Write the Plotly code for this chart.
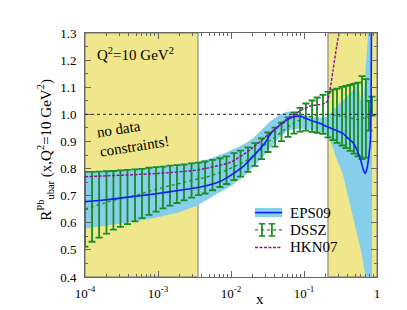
import plotly.graph_objects as go

# ---------------- data ----------------
band_x = [1e-4, 2e-4, 5e-4, 1e-3, 2e-3, 3.5e-3, 5e-3, 7.8e-3, 1e-2, 1.5e-2, 2e-2, 2.7e-2,
          3.4e-2, 4.7e-2, 6e-2, 8.8e-2, 0.12, 0.17, 0.21, 0.24, 0.28, 0.34, 0.40, 0.47,
          0.55, 0.60, 0.65, 0.69, 0.73, 0.78, 0.855]
band_lo = [0.579, 0.59, 0.605, 0.62, 0.64, 0.665, 0.69, 0.72, 0.735, 0.772, 0.805, 0.84,
           0.875, 0.917, 0.94, 0.948, 0.944, 0.935, 0.925, 0.89, 0.835, 0.78, 0.70, 0.62,
           0.545, 0.50, 0.45, 0.41, 0.35, 0.30, 0.25]
band_hi = [0.788, 0.792, 0.80, 0.807, 0.815, 0.825, 0.835, 0.855, 0.868, 0.89, 0.912, 0.948,
           0.973, 1.0, 1.01, 1.004, 0.991, 0.988, 0.99, 1.01, 1.03, 1.05, 1.07, 1.09,
           1.115, 1.05, 1.05, 1.15, 1.26, 1.45, 1.5]

eps_x = [1e-4, 2e-4, 5e-4, 1e-3, 2e-3, 3.5e-3, 5e-3, 7e-3, 1e-2, 1.5e-2, 2e-2, 3e-2, 3.4e-2,
         4e-2, 5.5e-2, 7e-2, 0.09, 0.12, 0.17, 0.21, 0.28, 0.34, 0.40, 0.47, 0.53, 0.60,
         0.65, 0.69, 0.73, 0.776, 0.814, 0.841]
eps_c = [0.678, 0.685, 0.698, 0.708, 0.72, 0.73, 0.739, 0.752, 0.776, 0.81, 0.845, 0.899, 0.924,
         0.945, 0.975, 0.99, 0.993, 0.979, 0.965, 0.954, 0.94, 0.93, 0.912, 0.895, 0.87, 0.83,
         0.795, 0.782, 0.80, 0.85, 0.91, 1.4]

hkn_x = [1e-4, 1e-3, 3.5e-3, 1e-2, 1.8e-2, 3.4e-2, 6.4e-2, 0.12, 0.16, 0.19, 0.21, 0.225,
         0.25, 0.28, 0.31, 0.34]
hkn_y = [0.77, 0.782, 0.795, 0.824, 0.868, 0.93, 0.991, 1.03, 1.036, 1.04, 1.05, 1.083,
         1.163, 1.25, 1.32, 1.45]

dssz_x = [1.00e-4, 1.25e-4, 1.56e-4, 1.97e-4, 2.45e-4, 3.06e-4, 3.82e-4, 4.84e-4, 6.04e-4,
          7.53e-4, 9.40e-4, 1.17e-3, 1.46e-3, 1.82e-3, 2.27e-3, 2.88e-3, 3.59e-3, 4.41e-3,
          5.58e-3, 7.06e-3, 8.67e-3, 1.10e-2, 1.35e-2, 1.71e-2, 2.13e-2, 2.62e-2, 3.21e-2,
          4.01e-2, 4.92e-2, 6.04e-2, 7.29e-2, 8.81e-2, 0.106, 0.129, 0.151, 0.182, 0.213,
          0.249, 0.283, 0.332, 0.376, 0.427, 0.484, 0.550, 0.624, 0.706, 0.776, 0.855]
dssz_c = [0.650, 0.659, 0.667, 0.675, 0.683, 0.689, 0.695, 0.701, 0.708, 0.716, 0.723, 0.730,
          0.737, 0.743, 0.749, 0.756, 0.762, 0.767, 0.776, 0.785, 0.794, 0.807, 0.818, 0.833,
          0.852, 0.873, 0.897, 0.916, 0.935, 0.953, 0.968, 0.980, 0.990, 0.993, 0.997, 1.000,
          0.999, 0.998, 0.995, 0.993, 0.990, 0.987, 0.984, 0.981, 0.988, 0.985, 0.995, 1.030]
dssz_err = [0.138, 0.129, 0.122, 0.115, 0.108, 0.104, 0.100, 0.096, 0.091, 0.087, 0.082, 0.077,
            0.074, 0.070, 0.066, 0.063, 0.060, 0.059, 0.056, 0.053, 0.051, 0.050, 0.048, 0.045,
            0.042, 0.038, 0.036, 0.035, 0.034, 0.036, 0.039, 0.044, 0.050, 0.058, 0.065, 0.072,
            0.084, 0.093, 0.100, 0.108, 0.115, 0.122, 0.129, 0.136, 0.153, 0.145, 0.055, 0.035]

nodata_low = [1e-4, 3.53e-3]
nodata_high = [0.213, 1.0]

# ---------------- styling ----------------
FONT = "Liberation Serif"
SKY = "rgb(135,206,235)"
BLUE = "rgb(10,30,255)"
GREEN = "rgb(25,140,35)"
PURPLE = "rgb(140,20,140)"
KHAKI = "rgb(240,230,140)"
AX = "#666666"

fig = go.Figure()

# EPS09 uncertainty band
fig.add_trace(go.Scatter(x=band_x, y=band_lo, mode="lines", line=dict(width=0, color=SKY),
                         showlegend=False, hoverinfo="skip"))
fig.add_trace(go.Scatter(x=band_x, y=band_hi, mode="lines", line=dict(width=0, color=SKY),
                         fill="tonexty", fillcolor=SKY, showlegend=False, hoverinfo="skip"))

# DSSZ
fig.add_trace(go.Scatter(x=dssz_x, y=dssz_c, mode="lines",
                         line=dict(color=GREEN, width=1.3, dash="dot", shape="spline"),
                         error_y=dict(type="data", array=dssz_err, visible=True, color=GREEN,
                                      thickness=1.8, width=3.5),
                         showlegend=False))

# EPS09 central
fig.add_trace(go.Scatter(x=eps_x, y=eps_c, mode="lines",
                         line=dict(color=BLUE, width=1.6, shape="spline", smoothing=0.6),
                         showlegend=False))

# HKN07
fig.add_trace(go.Scatter(x=hkn_x, y=hkn_y, mode="lines",
                         line=dict(color=PURPLE, width=1.4, dash="3px,1.5px", shape="spline",
                                   smoothing=0.6),
                         showlegend=False))

shapes = []
for reg in (nodata_low, nodata_high):
    shapes.append(dict(type="rect", xref="x", yref="paper", x0=reg[0], x1=reg[1], y0=0, y1=1,
                       fillcolor=KHAKI, line=dict(color="#777777", width=1), layer="below"))
shapes.append(dict(type="line", xref="paper", yref="y", x0=0, x1=1, y0=1.0, y1=1.0,
                   line=dict(color="#222222", width=1, dash="dot"), layer="above"))

# custom legend (paper coordinates)
L0, L1 = 0.582, 0.675
shapes.append(dict(type="rect", xref="paper", yref="paper", x0=L0, x1=L1, y0=0.246, y1=0.283,
                   fillcolor=SKY, line=dict(width=0)))
shapes.append(dict(type="line", xref="paper", yref="paper", x0=L0, x1=L1, y0=0.264, y1=0.264,
                   line=dict(color=BLUE, width=1.6)))
shapes.append(dict(type="line", xref="paper", yref="paper", x0=L0, x1=L1, y0=0.193, y1=0.193,
                   line=dict(color=GREEN, width=1.2, dash="dot")))
for xb in (0.606, 0.640):
    shapes.append(dict(type="line", xref="paper", yref="paper", x0=xb, x1=xb, y0=0.168, y1=0.218,
                       line=dict(color=GREEN, width=1.8)))
    for yb in (0.168, 0.218):
        shapes.append(dict(type="line", xref="paper", yref="paper", x0=xb - 0.011, x1=xb + 0.011,
                           y0=yb, y1=yb, line=dict(color=GREEN, width=1.5)))
shapes.append(dict(type="line", xref="paper", yref="paper", x0=L0, x1=L1, y0=0.121, y1=0.121,
                   line=dict(color=PURPLE, width=1.4, dash="3px,1.5px")))

ann = []
for txt, yy in (("EPS09", 0.264), ("DSSZ", 0.193), ("HKN07", 0.121)):
    ann.append(dict(text=txt, xref="paper", yref="paper", x=0.695, y=yy, xanchor="left",
                    yanchor="middle", showarrow=False, font=dict(family=FONT, size=15, color="black")))
ann.append(dict(text="Q<sup>2</sup>=10 GeV<sup>2</sup>", xref="paper", yref="paper", x=0.035,
                y=0.915, xanchor="left", yanchor="middle", showarrow=False,
                font=dict(family=FONT, size=15, color="black")))
ann.append(dict(text="no data<br>constraints!", xref="paper", yref="paper", x=0.164, y=0.575,
                xanchor="center", yanchor="middle", align="left", textangle=-9, showarrow=False,
                font=dict(family=FONT, size=15, color="black")))
ann.append(dict(text="R<sup>Pb</sup><sub>ubar</sub> (x,Q<sup>2</sup>=10 GeV<sup>2</sup>)",
                xref="paper", yref="paper", x=-0.135, y=0.52, xanchor="center", yanchor="middle",
                textangle=-90, showarrow=False, font=dict(family=FONT, size=15, color="black")))
ann.append(dict(text="x", xref="paper", yref="paper", x=0.599, y=-0.09, xanchor="center",
                yanchor="middle", showarrow=False, font=dict(family=FONT, size=15, color="black")))

minor_x = [m * 10.0 ** e for e in range(-4, 0) for m in range(2, 10)]

# the page body has an 8px margin: figure is 8px smaller, left/top margins compensate
fig.update_layout(
    width=399, height=302,
    margin=dict(l=77, r=30, t=25, b=33),
    paper_bgcolor="white", plot_bgcolor="white",
    showlegend=False,
    shapes=shapes, annotations=ann,
    font=dict(family=FONT, size=13, color="black"),
    xaxis=dict(type="log", range=[-4, 0], showgrid=False, zeroline=False, automargin=False,
               showline=True, linecolor=AX, linewidth=1, mirror="ticks",
               ticks="inside", ticklen=6, tickcolor=AX,
               tickmode="array", tickvals=[1e-4, 1e-3, 1e-2, 1e-1, 1],
               ticktext=["10<sup>-4</sup>", "10<sup>-3</sup>", "10<sup>-2</sup>",
                         "10<sup>-1</sup>", "1"],
               ticklabelstandoff=4,
               tickfont=dict(family=FONT, size=13, color="black"),
               minor=dict(tickvals=minor_x, ticks="inside", ticklen=3, tickcolor=AX,
                          showgrid=False)),
    yaxis=dict(range=[0.4, 1.3], showgrid=False, zeroline=False, automargin=False,
               showline=True, linecolor=AX, linewidth=1, mirror="ticks",
               ticks="inside", ticklen=6, tickcolor=AX,
               tick0=0.4, dtick=0.1, tickformat=".1f", ticklabelstandoff=5,
               tickfont=dict(family=FONT, size=13, color="black"),
               minor=dict(dtick=0.05, ticks="inside", ticklen=3, tickcolor=AX, showgrid=False)),
)

fig.write_html("out.html")
